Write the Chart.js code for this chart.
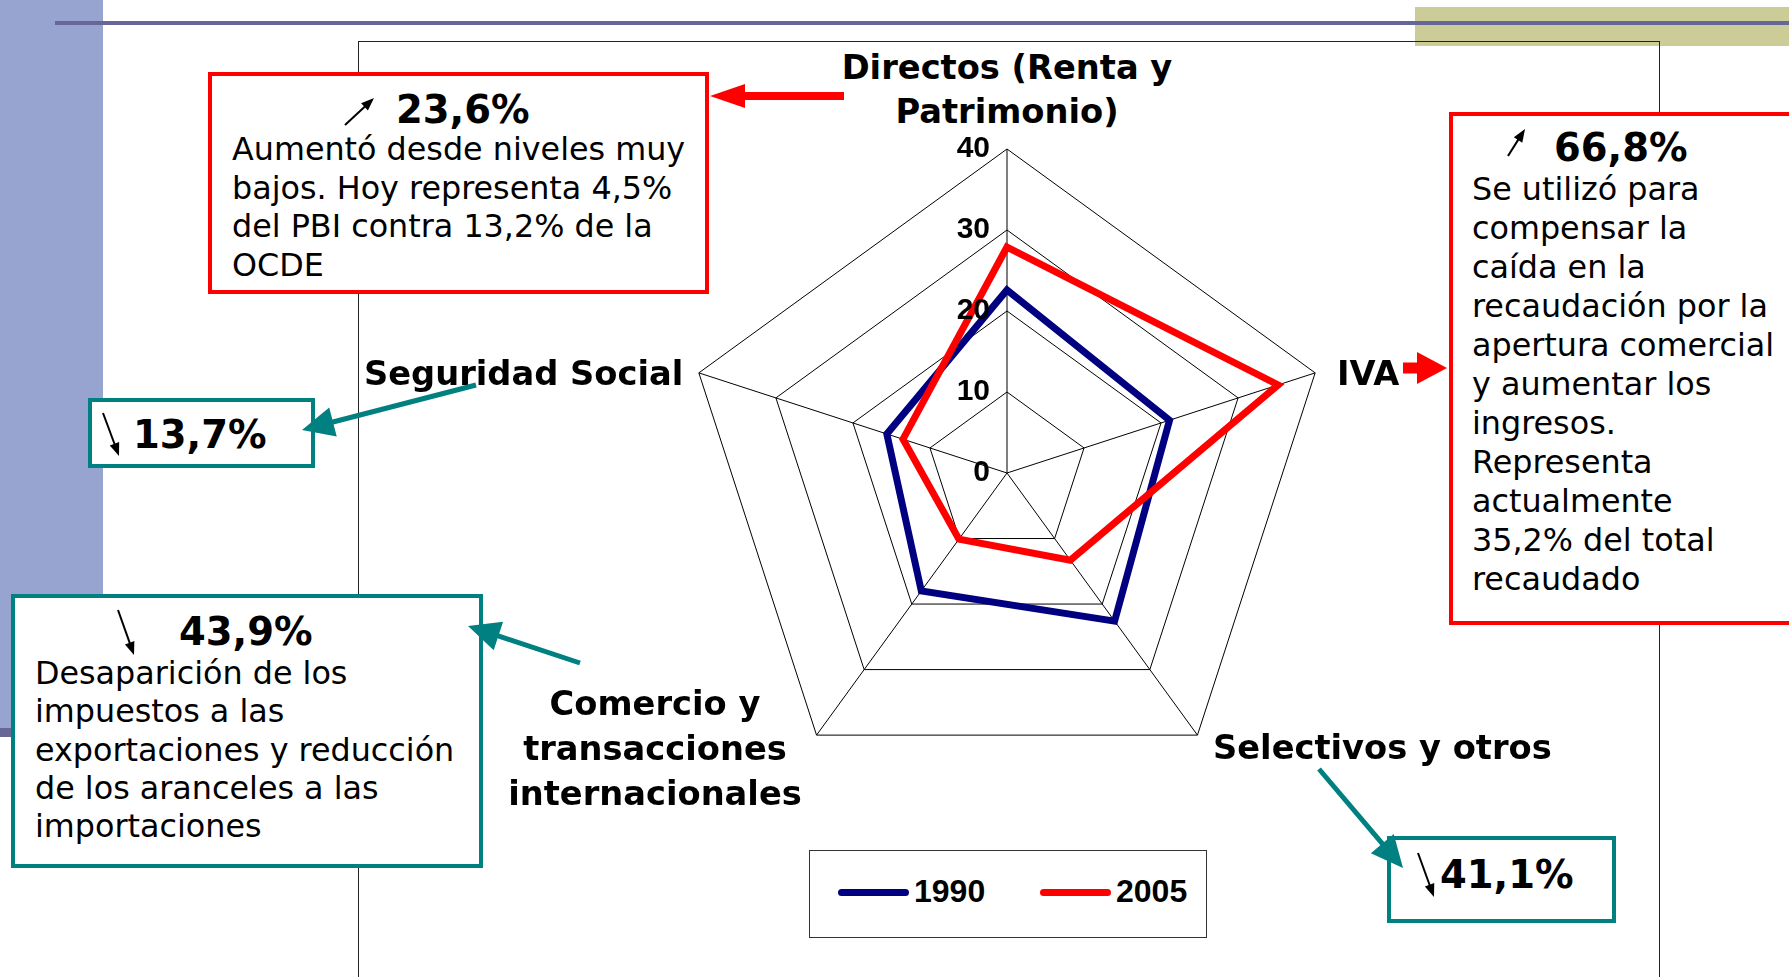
<!DOCTYPE html>
<html>
<head>
<meta charset="utf-8">
<script src="https://cdn.jsdelivr.net/npm/chart.js@4.4.1/dist/chart.umd.min.js"></script>
<style>
  html, body { margin:0; padding:0; background:#fff; }
  body { width:1789px; height:977px; position:relative; overflow:hidden; font-family:"DejaVu Sans", Verdana, sans-serif; }
  .abs { position:absolute; }
  .box { position:absolute; background:#fff; box-sizing:border-box; }
  .red { border:4px solid #ff0000; }
  .teal { border:4px solid #008080; }
  .body { position:absolute; font-size:31.8px; line-height:38.7px; white-space:pre; color:#000; }
  .head { position:absolute; font-size:38.5px; line-height:40px; font-weight:bold; white-space:pre; }
  .cat { position:absolute; font-size:33.7px; line-height:44px; font-weight:bold; white-space:pre; }
  #legend { position:absolute; left:809px; top:850px; width:398px; height:88px; box-sizing:border-box; border:1.5px solid #333; background:#fff; }
  .lg-sw { position:absolute; height:7px; width:71px; border-radius:4px; }
  .lg-tx { position:absolute; font-family:"Liberation Sans", Arial, sans-serif; font-weight:bold; font-size:32px; line-height:36px; }
</style>
</head>
<body>
<!-- slide decoration -->
<div class="abs" style="left:0;top:0;width:103px;height:728px;background:#97a4d0;"></div>
<div class="abs" style="left:0;top:728px;width:103px;height:9px;background:#666699;"></div>
<div class="abs" style="left:1415px;top:7px;width:374px;height:39px;background:#cccc99;"></div>
<div class="abs" style="left:55px;top:21px;width:1734px;height:4px;background:#666699;"></div>
<div class="abs" style="left:358px;top:41px;width:1302px;height:1000px;border:1.5px solid #222;box-sizing:border-box;"></div>

<div class="abs" style="left:671px;top:137px;width:672px;height:672px;">
  <canvas id="chRadar"></canvas>
</div>

<!-- annotation boxes -->
<div class="box red" style="left:208px;top:72px;width:501px;height:222px;"></div>
<div class="head" style="left:396px;top:90px;">23,6%</div>
<div class="body" style="left:232px;top:130px;">Aumentó desde niveles muy
bajos. Hoy representa 4,5%
del PBI contra 13,2% de la
OCDE</div>

<div class="box red" style="left:1449px;top:112px;width:400px;height:513px;"></div>
<div class="head" style="left:1554px;top:128px;">66,8%</div>
<div class="body" style="left:1472px;top:168.5px;line-height:39px;">Se utilizó para
compensar la
caída en la
recaudación por la
apertura comercial
y aumentar los
ingresos.
Representa
actualmente
35,2% del total
recaudado</div>

<div class="box teal" style="left:88px;top:398px;width:227px;height:70px;"></div>
<div class="head" style="left:133px;top:415px;">13,7%</div>

<div class="box teal" style="left:11px;top:594px;width:472px;height:274px;"></div>
<div class="head" style="left:179px;top:612px;">43,9%</div>
<div class="body" style="left:35px;top:654px;line-height:38.3px;">Desaparición de los
impuestos a las
exportaciones y reducción
de los aranceles a las
importaciones</div>

<div class="box teal" style="left:1387px;top:836px;width:229px;height:87px;"></div>
<div class="head" style="left:1440px;top:855px;">41,1%</div>

<div id="cats"></div>
<div id="legend"></div>

<svg id="arrows" class="abs" style="left:0;top:0;" width="1789" height="977"></svg>

<script>
// chart data
var categories = [
  ['Directos (Renta y', 'Patrimonio)'],
  ['IVA'],
  ['Selectivos y otros'],
  ['Comercio y', 'transacciones', 'internacionales'],
  ['Seguridad Social']
];
var seriesNames = ['1990', '2005'];
var values1990 = [22.6, 21.1, 22.6, 18.0, 15.6];
var values2005 = [27.9, 35.2, 13.3, 10.1, 13.5];
var tickMin = 0, tickMax = 40, tickStep = 10;
var colors = ['#000080', '#ff0000'];

// where the category text boxes sit on the slide
var catPlaces = [
  {left: 807, top: 46, width: 400, align: 'center'},
  {left: 1337, top: 352},
  {left: 1213, top: 726},
  {left: 455, top: 681, width: 400, align: 'center', lh: 45},
  {left: 364, top: 352}
];

var catsDiv = document.getElementById('cats');
categories.forEach(function (lines, i) {
  var p = catPlaces[i];
  var d = document.createElement('div');
  d.className = 'cat';
  d.style.left = p.left + 'px';
  d.style.top = p.top + 'px';
  if (p.width) { d.style.width = p.width + 'px'; }
  if (p.align) { d.style.textAlign = p.align; }
  if (p.lh) { d.style.lineHeight = p.lh + 'px'; }
  d.textContent = lines.join('\n');
  catsDiv.appendChild(d);
});

// tick numbers sit left of the vertical axis
var tickLabels = {
  id: 'tickLabels',
  afterDatasetsDraw: function (chart) {
    var r = chart.scales.r;
    var ctx = chart.ctx;
    ctx.save();
    ctx.font = 'bold 30px "Liberation Sans", Arial, sans-serif';
    ctx.fillStyle = '#000';
    ctx.textAlign = 'right';
    ctx.textBaseline = 'middle';
    r.ticks.forEach(function (t) {
      var y = r.yCenter - r.getDistanceFromCenterForValue(t.value);
      ctx.fillText(String(t.value), r.xCenter - 17, y);
    });
    ctx.restore();
  }
};

var chRadar = new Chart(document.getElementById('chRadar'), {
  type: 'radar',
  data: {
    labels: categories,
    datasets: [
      {label: seriesNames[0], data: values1990, borderColor: colors[0], backgroundColor: 'transparent',
       borderWidth: 7, pointRadius: 0, fill: false, borderJoinStyle: 'miter', order: 1},
      {label: seriesNames[1], data: values2005, borderColor: colors[1], backgroundColor: 'transparent',
       borderWidth: 7, pointRadius: 0, fill: false, borderJoinStyle: 'miter', order: 0}
    ]
  },
  options: {
    responsive: true,
    maintainAspectRatio: false,
    animation: false,
    layout: {padding: 12},
    plugins: {legend: {display: false}, tooltip: {enabled: false}},
    scales: {
      r: {
        min: tickMin, max: tickMax,
        ticks: {stepSize: tickStep, display: false},
        grid: {color: '#000', lineWidth: 1},
        angleLines: {color: '#000', lineWidth: 1},
        pointLabels: {display: false}
      }
    }
  },
  plugins: [tickLabels]
});

// legend built from the datasets
var legend = document.getElementById('legend');
var legendX = [28, 230];
chRadar.data.datasets.forEach(function (ds, i) {
  var sw = document.createElement('div');
  sw.className = 'lg-sw';
  sw.style.left = legendX[i] + 'px';
  sw.style.top = '37.5px';
  sw.style.background = ds.borderColor;
  legend.appendChild(sw);
  var tx = document.createElement('div');
  tx.className = 'lg-tx';
  tx.style.left = (legendX[i] + 76) + 'px';
  tx.style.top = '22px';
  tx.textContent = ds.label;
  legend.appendChild(tx);
});

// arrows
var svg = document.getElementById('arrows');
function arrow(x1, y1, x2, y2, w, headLen, headHalf, color) {
  var dx = x2 - x1, dy = y2 - y1;
  var len = Math.sqrt(dx * dx + dy * dy);
  var ux = dx / len, uy = dy / len;
  var bx = x2 - ux * headLen, by = y2 - uy * headLen;
  var ln = document.createElementNS('http://www.w3.org/2000/svg', 'line');
  ln.setAttribute('x1', x1); ln.setAttribute('y1', y1);
  ln.setAttribute('x2', bx + ux * 1); ln.setAttribute('y2', by + uy * 1);
  ln.setAttribute('stroke', color); ln.setAttribute('stroke-width', w);
  svg.appendChild(ln);
  var pg = document.createElementNS('http://www.w3.org/2000/svg', 'polygon');
  pg.setAttribute('points', [x2, y2, bx - uy * headHalf, by + ux * headHalf, bx + uy * headHalf, by - ux * headHalf].join(' '));
  pg.setAttribute('fill', color);
  svg.appendChild(pg);
}
arrow(844, 96, 710, 96, 8, 35, 12, '#ff0000');
arrow(1403, 368, 1447, 368, 11, 30, 16, '#ff0000');
arrow(476, 385, 302, 430, 5, 32, 15, '#008080');
arrow(580, 663, 468, 626, 5, 32, 15, '#008080');
arrow(1319, 769, 1403, 868, 5, 32, 15, '#008080');
arrow(345, 125, 374, 98, 2, 13, 5, '#000');
arrow(1508, 156, 1525, 129, 2, 13, 5, '#000');
arrow(103, 413, 119, 456, 2, 13, 5, '#000');
arrow(118, 610, 134, 655, 2, 13, 5, '#000');
arrow(1418, 853, 1434, 897, 2, 13, 5, '#000');
</script>
</body>
</html>
